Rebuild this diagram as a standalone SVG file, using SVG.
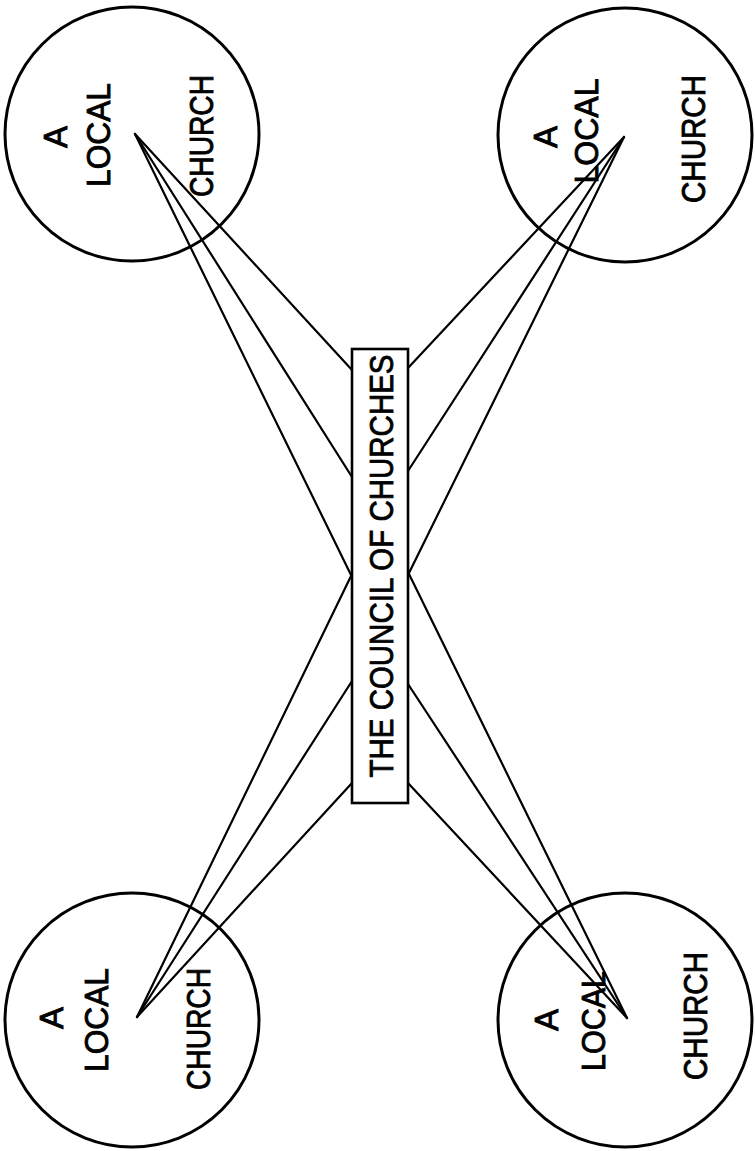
<svg xmlns="http://www.w3.org/2000/svg" width="755" height="1151" viewBox="0 0 755 1151">
  <style>
    .circle { fill: none; stroke: #000; stroke-width: 3; }
    .box { fill: #fff; stroke: #000; stroke-width: 2.6; }
    .link { stroke: #000; stroke-width: 2.2; fill: none; stroke-linecap: round; }
    .lbl { font-family: "Liberation Sans", Arial, sans-serif; font-size: 33px; fill: #000; stroke: #000; stroke-width: 0.9; text-anchor: middle; }
    .title { font-family: "Liberation Sans", Arial, sans-serif; font-size: 34px; fill: #000; stroke: #000; stroke-width: 0.8; text-anchor: middle; }
  </style>
  <rect width="755" height="1151" fill="#fff"/>

  <g id="church-top-left">
    <circle class="circle" cx="132" cy="134" r="127"/>
    <text class="lbl" x="67" y="137" transform="rotate(-90 67 137)">A</text>
    <text class="lbl" x="110" y="135" transform="rotate(-90 110 135)" textLength="104" lengthAdjust="spacingAndGlyphs">LOCAL</text>
    <text class="lbl" x="213" y="136" transform="rotate(-90 213 136)" textLength="122" lengthAdjust="spacingAndGlyphs">CHURCH</text>
  </g>

  <g id="church-top-right">
    <circle class="circle" cx="625" cy="135" r="127"/>
    <text class="lbl" x="557" y="137" transform="rotate(-90 557 137)">A</text>
    <text class="lbl" x="598" y="131" transform="rotate(-90 598 131)" textLength="105" lengthAdjust="spacingAndGlyphs">LOCAL</text>
    <text class="lbl" x="705" y="139" transform="rotate(-90 705 139)" textLength="128" lengthAdjust="spacingAndGlyphs">CHURCH</text>
  </g>

  <g id="church-bottom-left">
    <circle class="circle" cx="132" cy="1020" r="127"/>
    <text class="lbl" x="63" y="1018" transform="rotate(-90 63 1018)">A</text>
    <text class="lbl" x="108" y="1020" transform="rotate(-90 108 1020)" textLength="104" lengthAdjust="spacingAndGlyphs">LOCAL</text>
    <text class="lbl" x="210" y="1029" transform="rotate(-90 210 1029)" textLength="122" lengthAdjust="spacingAndGlyphs">CHURCH</text>
  </g>

  <g id="church-bottom-right">
    <circle class="circle" cx="625" cy="1020" r="127"/>
    <text class="lbl" x="558" y="1020" transform="rotate(-90 558 1020)">A</text>
    <text class="lbl" x="605" y="1021" transform="rotate(-90 605 1021)" textLength="100" lengthAdjust="spacingAndGlyphs">LOCAL</text>
    <text class="lbl" x="707" y="1016" transform="rotate(-90 707 1016)" textLength="128" lengthAdjust="spacingAndGlyphs">CHURCH</text>
  </g>

  <g id="connectors">
    <line class="link" x1="135" y1="134" x2="352" y2="370"/>
    <line class="link" x1="135" y1="134" x2="352" y2="477"/>
    <line class="link" x1="135" y1="134" x2="352" y2="577"/>

    <line class="link" x1="624" y1="137" x2="408" y2="368"/>
    <line class="link" x1="624" y1="137" x2="408" y2="471"/>
    <line class="link" x1="624" y1="137" x2="408" y2="575"/>

    <line class="link" x1="137" y1="1017" x2="352" y2="783"/>
    <line class="link" x1="137" y1="1017" x2="352" y2="681"/>
    <line class="link" x1="137" y1="1017" x2="352" y2="574"/>

    <line class="link" x1="627" y1="1018" x2="408" y2="783"/>
    <line class="link" x1="627" y1="1018" x2="408" y2="684"/>
    <line class="link" x1="627" y1="1018" x2="408" y2="572"/>
  </g>

  <g id="council">
    <rect class="box" x="352" y="349" width="56" height="454"/>
    <text class="title" x="393" y="566" transform="rotate(-90 393 566)" textLength="423" lengthAdjust="spacingAndGlyphs">THE COUNCIL OF CHURCHES</text>
  </g>
</svg>
